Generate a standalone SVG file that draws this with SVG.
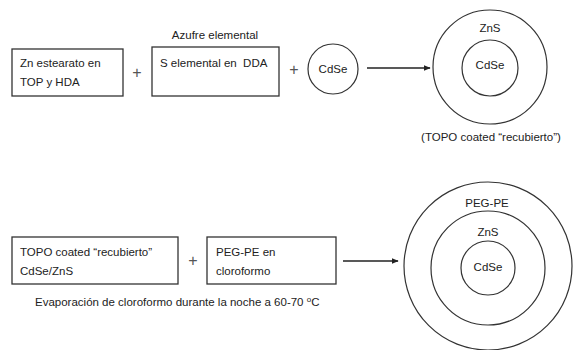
<svg xmlns="http://www.w3.org/2000/svg" width="578" height="350" viewBox="0 0 578 350">
<defs>
<style>
.box{fill:#fff;stroke:#333;stroke-width:1.3}
.c{fill:none;stroke:#333;stroke-width:1.2}
.t{font-family:"Liberation Sans",Arial,sans-serif;font-size:11.5px;fill:#222}
.m{text-anchor:middle}
.plus{font-family:"Liberation Sans",Arial,sans-serif;font-size:16px;fill:#555;text-anchor:middle}
.ln{stroke:#222;stroke-width:1.3;fill:none}
</style>
<marker id="ah" viewBox="0 0 10 10" refX="9" refY="5" markerWidth="7" markerHeight="7" orient="auto" markerUnits="userSpaceOnUse">
<path d="M0,1 L10,5 L0,9 z" fill="#222"/>
</marker>
</defs>
<rect width="578" height="350" fill="#fff"/>

<g id="n-zn">
<rect class="box" x="12" y="49" width="111" height="47"/>
<text class="t" x="20" y="67">Zn estearato en</text>
<text class="t" x="20" y="86">TOP y HDA</text>
</g>
<g id="plus1"><text class="plus" x="137" y="78">+</text></g>
<g id="n-s">
<text class="t m" x="215" y="39">Azufre elemental</text>
<rect class="box" x="152" y="47" width="127" height="49"/>
<text class="t" x="160" y="67" xml:space="preserve">S elemental en  DDA</text>
</g>
<g id="plus2"><text class="plus" x="294" y="75">+</text></g>
<g id="n-cdse">
<circle class="c" cx="333" cy="69" r="25"/>
<text class="t m" x="333" y="73">CdSe</text>
</g>
<g id="n-core1">
<circle class="c" cx="490" cy="67" r="57"/>
<circle class="c" cx="490" cy="68" r="28"/>
<text class="t m" x="490" y="32">ZnS</text>
<text class="t m" x="490" y="69">CdSe</text>
<text class="t m" x="491" y="141">(TOPO coated “recubierto”)</text>
</g>

<g id="n-topo">
<rect class="box" x="12" y="237" width="166" height="47"/>
<text class="t" x="20" y="256">TOPO coated “recubierto”</text>
<text class="t" x="20" y="275">CdSe/ZnS</text>
</g>
<g id="plus3"><text class="plus" x="193" y="266">+</text></g>
<g id="n-peg">
<rect class="box" x="207" y="237" width="129" height="47"/>
<text class="t" x="216" y="256">PEG-PE en</text>
<text class="t" x="216" y="275">cloroformo</text>
</g>
<g id="caption">
<text class="t" x="35" y="306">Evaporación de cloroformo durante la noche a 60-70 <tspan font-size="8px" dy="-4">o</tspan><tspan dy="4">C</tspan></text>
</g>
<g id="n-core2">
<circle class="c" cx="488" cy="266" r="84"/>
<circle class="c" cx="488" cy="268" r="57"/>
<circle class="c" cx="488" cy="268" r="27"/>
<text class="t m" x="487" y="207">PEG-PE</text>
<text class="t m" x="488" y="236">ZnS</text>
<text class="t m" x="488" y="271">CdSe</text>
</g>

<g id="connectors">
<line class="ln" x1="367" y1="68" x2="430" y2="68" marker-end="url(#ah)"/>
<line class="ln" x1="343" y1="261" x2="398" y2="261" marker-end="url(#ah)"/>
</g>
</svg>
